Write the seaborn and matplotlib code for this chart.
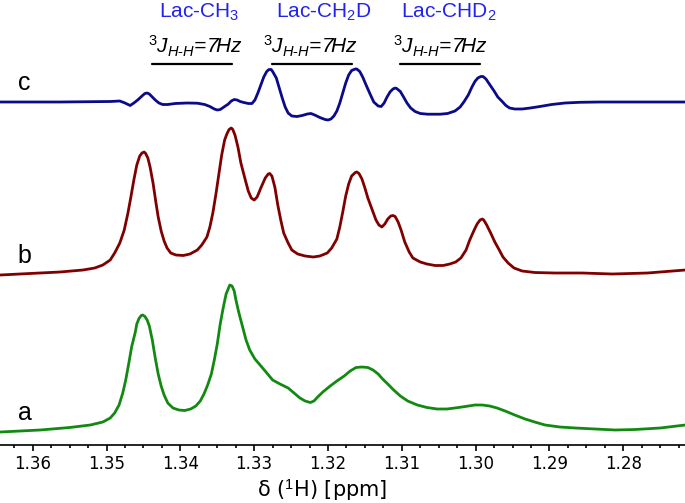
import numpy as np
import pandas as pd
import matplotlib
matplotlib.use("Agg")
import matplotlib.pyplot as plt
from matplotlib.ticker import MultipleLocator, FormatStrFormatter
import seaborn as sns

# chemical shift (ppm) and intensity
ppm_a = [1.3644, 1.3590, 1.3550, 1.3522, 1.3505, 1.3495, 1.3489, 1.3483, 1.3478, 1.3474,
         1.3470, 1.3466, 1.3461, 1.3459, 1.3456, 1.3453, 1.3451, 1.3448, 1.3445, 1.3442,
         1.3438, 1.3434, 1.3430, 1.3426, 1.3422, 1.3417, 1.3410, 1.3402, 1.3394, 1.3386,
         1.3379, 1.3373, 1.3368, 1.3363, 1.3358, 1.3354, 1.3350, 1.3346, 1.3342, 1.3338,
         1.3335, 1.3333, 1.3330, 1.3327, 1.3325, 1.3321, 1.3316, 1.3311, 1.3306, 1.3299,
         1.3292, 1.3284, 1.3275, 1.3265, 1.3254, 1.3246, 1.3238, 1.3231, 1.3224, 1.3219,
         1.3214, 1.3207, 1.3197, 1.3188, 1.3178, 1.3170, 1.3162, 1.3154, 1.3146, 1.3139,
         1.3132, 1.3126, 1.3119, 1.3111, 1.3102, 1.3092, 1.3079, 1.3066, 1.3052, 1.3039,
         1.3028, 1.3014, 1.3001, 1.2991, 1.2981, 1.2971, 1.2960, 1.2947, 1.2933, 1.2920,
         1.2906, 1.2886, 1.2865, 1.2838, 1.2811, 1.2784, 1.2750, 1.2716]
int_a = [0, 2, 4.5, 7, 10, 14, 19, 27, 39, 52,
         68, 85, 100, 108, 113.5, 116.5, 117, 115.5, 112, 106,
         92, 74, 58, 46, 37, 29, 24, 22, 21.5, 23,
         26, 31, 38, 47, 58, 72, 88, 108, 124, 138,
         143.5, 147, 146, 141, 133, 120, 106, 92, 82, 73,
         67, 60, 52, 48, 44, 39, 34, 31, 29.5, 31,
         35, 40, 46, 51, 56, 61, 64.5, 65, 64.5, 62,
         58, 53, 48, 42, 36, 31, 27, 24.5, 23, 23,
         24, 25.5, 27, 27, 26, 24, 21, 17, 13, 10,
         7, 5, 4, 3, 2, 2.5, 4, 7]

ppm_b = [1.3644, 1.3604, 1.3563, 1.3532, 1.3516, 1.3505, 1.3495, 1.3489, 1.3482, 1.3476,
         1.3471, 1.3467, 1.3463, 1.3459, 1.3455, 1.3452, 1.3449, 1.3447, 1.3444, 1.3441,
         1.3437, 1.3433, 1.3430, 1.3426, 1.3422, 1.3418, 1.3413, 1.3406, 1.3396, 1.3387,
         1.3377, 1.3371, 1.3364, 1.3360, 1.3356, 1.3352, 1.3348, 1.3344, 1.3340, 1.3337,
         1.3334, 1.3331, 1.3329, 1.3326, 1.3322, 1.3318, 1.3312, 1.3308, 1.3304, 1.3300,
         1.3296, 1.3291, 1.3285, 1.3281, 1.3279, 1.3276, 1.3272, 1.3268, 1.3264, 1.3260,
         1.3254, 1.3249, 1.3241, 1.3231, 1.3220, 1.3211, 1.3201, 1.3195, 1.3188, 1.3184,
         1.3180, 1.3176, 1.3172, 1.3168, 1.3163, 1.3161, 1.3158, 1.3154, 1.3150, 1.3146,
         1.3140, 1.3135, 1.3131, 1.3127, 1.3123, 1.3119, 1.3115, 1.3112, 1.3109, 1.3105,
         1.3101, 1.3096, 1.3090, 1.3085, 1.3075, 1.3066, 1.3055, 1.3044, 1.3035, 1.3027,
         1.3020, 1.3013, 1.3008, 1.3002, 1.2998, 1.2994, 1.2991, 1.2989, 1.2985, 1.2979,
         1.2974, 1.2968, 1.2963, 1.2956, 1.2948, 1.2937, 1.2920, 1.2893, 1.2856, 1.2815,
         1.2767, 1.2716]
int_b = [0, 1.5, 3, 5, 7, 10, 15, 22, 32, 45,
         62, 78, 95, 110, 119, 122, 123, 121.5, 117, 108,
         92, 72, 58, 44, 34, 27, 22, 20, 19.5, 21,
         25, 30, 38, 48, 62, 80, 100, 120, 135, 141,
         145.5, 147, 145.5, 140, 128, 112, 95, 84, 77, 75,
         78, 87, 97, 101, 101.5, 99, 88, 70, 55, 42,
         32, 25, 21, 19, 18, 19, 22, 27, 36, 48,
         63, 79, 91, 99, 102.5, 103, 101.5, 96, 87, 77,
         65, 55, 50, 48, 51, 56, 59, 59.5, 58.5, 53,
         45, 33, 23, 17, 13, 11, 9.5, 9.5, 11, 13,
         17, 25, 35, 45, 51, 55, 56, 55, 50, 41,
         33, 25, 18, 12, 7, 4, 2.5, 2, 2, 1,
         2, 5]

ppm_c = [1.3644, 1.3563, 1.3495, 1.3482, 1.3475, 1.3468, 1.3463, 1.3457, 1.3452, 1.3448,
         1.3445, 1.3442, 1.3438, 1.3434, 1.3429, 1.3424, 1.3417, 1.3407, 1.3391, 1.3377,
         1.3367, 1.3360, 1.3354, 1.3350, 1.3346, 1.3341, 1.3335, 1.3331, 1.3327, 1.3323,
         1.3319, 1.3314, 1.3308, 1.3303, 1.3299, 1.3295, 1.3291, 1.3287, 1.3283, 1.3280,
         1.3277, 1.3275, 1.3270, 1.3266, 1.3262, 1.3258, 1.3254, 1.3249, 1.3242, 1.3235,
         1.3228, 1.3223, 1.3218, 1.3211, 1.3204, 1.3200, 1.3196, 1.3192, 1.3188, 1.3184,
         1.3180, 1.3176, 1.3172, 1.3168, 1.3163, 1.3161, 1.3157, 1.3153, 1.3149, 1.3143,
         1.3138, 1.3132, 1.3128, 1.3124, 1.3120, 1.3116, 1.3112, 1.3109, 1.3107, 1.3102,
         1.3098, 1.3093, 1.3088, 1.3082, 1.3075, 1.3065, 1.3048, 1.3038, 1.3028, 1.3021,
         1.3016, 1.3010, 1.3005, 1.3001, 1.2997, 1.2993, 1.2990, 1.2986, 1.2981, 1.2975,
         1.2970, 1.2964, 1.2959, 1.2954, 1.2947, 1.2937, 1.2926, 1.2913, 1.2897, 1.2879,
         1.2859, 1.2832, 1.2716]
int_c = [0, 0, 0.5, 1, -1, -3.5, -1, 2.5, 6, 8.5,
         9, 8, 5, 2, -1, -2.5, -2.5, -1.5, -1, -1.2,
         -2.5, -4.5, -7, -8, -7.5, -5, -2, 1, 2.5, 2,
         0.5, -0.5, -1.5, -1.5, 2, 9, 17, 25, 30.5, 32.5,
         32.5, 30.5, 24, 14, 4, -5, -11, -14, -14.5, -13.5,
         -12, -11.5, -13, -15.5, -17.5, -18, -17, -14, -9, -1,
         9, 19, 27, 31.5, 33, 33, 30.5, 25, 18, 8,
         0, -4, -4.5, -1, 5, 10, 13, 14, 13.5, 10.5,
         5.5, -1, -6, -9.5, -11.5, -12.2, -12.2, -11.5, -9, -5,
         0, 7, 15, 20.5, 24, 25.5, 25.5, 23, 17.5, 11,
         5, 0.5, -3.5, -6, -7, -7, -6, -4.5, -2.5, -1,
         -0.3, 0, 0]

trace_names = ["a", "b", "c"]
trace_offsets = [13, 170, 343]
trace_colors = ["#128a12", "#800000", "#0a0a8a"]

group_labels = ["Lac-CH$_3$", "Lac-CH$_2$D", "Lac-CHD$_2$"]
group_centers = [1.3374, 1.3206, 1.3036]
j_label = "$^{3}J_{H\u2010H}$=7Hz"
j_centers = [1.3380, 1.3224, 1.3047]
j_starts = [1.3439, 1.3276, 1.3103]
j_ends = [1.3330, 1.3168, 1.2994]

sns.set_theme(style="white")
plt.rcParams["font.family"] = ["DejaVu Sans"]
plt.rcParams["mathtext.fontset"] = "custom"
plt.rcParams["mathtext.rm"] = "Liberation Sans"
plt.rcParams["mathtext.it"] = "Liberation Sans:italic"
plt.rcParams["mathtext.bf"] = "Liberation Sans:bold"

fig = plt.figure(figsize=(6.85, 5.03), dpi=100)
ax = fig.add_axes([0, 0.1153, 1, 0.8847])

spectra = [(ppm_a, int_a), (ppm_b, int_b), (ppm_c, int_c)]
for (ppm, inten), name, off, col in zip(spectra, trace_names, trace_offsets, trace_colors):
    df = pd.DataFrame({"ppm": ppm, "y": np.array(inten) + off})
    sns.lineplot(data=df, x="ppm", y="y", color=col, lw=2.0, sort=False,
                 estimator=None, ax=ax, solid_joinstyle="round", solid_capstyle="round")
    ax.text(1.3620, off + 12, name, fontsize=18, family="Liberation Sans",
            ha="left", va="baseline", color="black")

for lab, xc in zip(group_labels, group_centers):
    ax.text(xc, 427, lab, fontsize=15, family="Liberation Sans", color="#2222ee",
            ha="center", va="baseline")

for xc, x0, x1 in zip(j_centers, j_starts, j_ends):
    ax.text(xc, 392, j_label, fontsize=15, family="Liberation Sans", style="italic",
            color="black", ha="center", va="baseline")
    ax.plot([x0, x1], [381.5, 381.5], color="black", lw=1.6)

ax.set_xlim(1.36443, 1.27164)
ax.set_ylim(0, 445)
ax.set_yticks([])
ax.set_ylabel("")
for s in ["top", "left", "right"]:
    ax.spines[s].set_visible(False)
ax.spines["bottom"].set_color("black")
ax.spines["bottom"].set_linewidth(1.2)
ax.xaxis.set_major_locator(MultipleLocator(0.01))
ax.xaxis.set_minor_locator(MultipleLocator(0.0025))
ax.xaxis.set_major_formatter(FormatStrFormatter("%.2f"))
ax.tick_params(axis="x", which="major", direction="out", length=4, width=1.2,
               labelsize=12, pad=3.5, colors="black", bottom=True)
ax.tick_params(axis="x", which="minor", direction="out", length=2.2, width=1.2,
               bottom=True, colors="black")
ax.set_xlabel(r"δ ($^{1}$H) [ppm]", fontsize=15, color="black", va="top")
ax.xaxis.set_label_coords(0.47, -0.072)

plt.savefig("out.png", dpi=100)
